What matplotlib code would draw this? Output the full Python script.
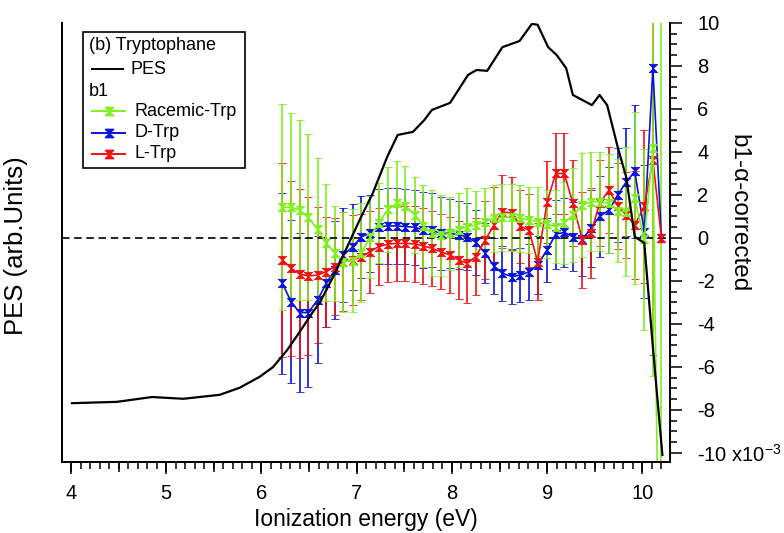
import numpy as np
import matplotlib.pyplot as plt
from matplotlib.path import Path
from matplotlib.ticker import MultipleLocator
from matplotlib.patches import Rectangle
from matplotlib.lines import Line2D

plt.rcParams['font.family'] = ['Liberation Sans', 'DejaVu Sans']
plt.rcParams['mathtext.fontset'] = 'custom'
plt.rcParams['mathtext.rm'] = 'Liberation Sans'

# PES spectrum (arb. units)
pes_energy = [4.01, 4.48, 4.85, 5.18, 5.56, 5.77, 5.98, 6.12, 6.27, 6.40, 6.54, 6.61,
              6.75, 6.90, 7.03, 7.17, 7.32, 7.43, 7.59, 7.71, 7.79, 7.98, 8.17, 8.26,
              8.37, 8.53, 8.71, 8.84, 8.90, 9.01, 9.10, 9.20, 9.27, 9.47, 9.55, 9.63,
              9.74, 9.83, 9.92, 10.02, 10.11, 10.21]
pes = [0.134, 0.137, 0.148, 0.144, 0.153, 0.169, 0.194, 0.216, 0.255, 0.296, 0.342, 0.362,
       0.421, 0.490, 0.551, 0.613, 0.695, 0.745, 0.752, 0.779, 0.802, 0.818, 0.882, 0.893,
       0.891, 0.945, 0.959, 0.998, 0.996, 0.945, 0.927, 0.897, 0.836, 0.813, 0.836, 0.813,
       0.718, 0.649, 0.513, 0.499, 0.262, 0.016]

# b1 (x1e-3)
energy = [6.22, 6.31, 6.40, 6.49, 6.59, 6.68, 6.77, 6.86, 6.96, 7.05, 7.14, 7.23, 7.33,
          7.42, 7.51, 7.61, 7.70, 7.79, 7.88, 7.98, 8.07, 8.16, 8.25, 8.35, 8.44, 8.53,
          8.63, 8.72, 8.81, 8.90, 9.00, 9.09, 9.18, 9.27, 9.37, 9.46, 9.55, 9.65, 9.74,
          9.83, 9.92, 10.02, 10.11, 10.20]

racemic = [1.43, 1.43, 1.30, 0.96, 0.40, -0.22, -0.71, -1.10, -1.05, -0.68, 0.03, 0.71,
           1.33, 1.61, 1.49, 1.07, 0.56, 0.22, 0.12, 0.22, 0.37, 0.53, 0.60, 0.76, 0.91,
           0.96, 0.96, 0.91, 0.84, 0.76, 0.65, 0.53, 0.71, 1.07, 1.53, 1.69, 1.69, 1.61,
           1.27, 1.22, 1.85, -0.06, 4.17, -25.0]
racemic_err = [4.8, 4.37, 4.19, 3.86, 3.33, 2.72, 2.2, 2.33, 2.4, 2.3, 1.9, 1.86, 1.99,
               1.99, 1.87, 1.75, 1.91, 2.0, 1.9, 1.7, 1.7, 1.78, 1.6, 1.55, 1.55, 1.55,
               1.55, 1.55, 1.55, 1.6, 1.6, 1.7, 1.9, 2.2, 2.4, 2.3, 2.3, 2.3, 2.4, 3.0,
               4.0, 4.2, 10.6, 40.0]

d_trp = [-2.11, -2.96, -3.47, -3.47, -2.88, -2.11, -1.49, -0.79, -0.40, 0.06, 0.22, 0.53,
         0.56, 0.56, 0.53, 0.50, 0.37, 0.37, 0.22, 0.22, 0.14, 0.06, -0.20, -0.71, -1.30,
         -1.64, -1.80, -1.72, -1.57, -1.26, -0.55, 0.18, 0.26, 0.06, -0.05, 0.45, 1.0,
         1.3, 2.0, 2.6, 3.1, 0.3, 7.9, 0.0]
d_trp_err = [4.2, 3.8, 3.7, 3.45, 2.95, 2.05, 2.3, 2.2, 2.0, 1.9, 1.8, 1.75, 1.75, 1.75,
             1.75, 1.75, 1.75, 1.7, 1.7, 1.6, 1.6, 1.55, 1.5, 1.4, 1.3, 1.27, 1.27, 1.27,
             1.3, 1.35, 1.5, 1.6, 1.6, 1.6, 1.7, 1.8, 1.9, 2.0, 2.2, 2.5, 3.1, 3.1, 4.2, 0.0]

l_trp = [-1.02, -1.41, -1.67, -1.77, -1.72, -1.57, -1.33, -1.10, -1.02, -0.87, -0.64,
         -0.40, -0.28, -0.25, -0.25, -0.28, -0.37, -0.48, -0.64, -0.79, -1.02, -1.18,
         -0.87, -0.10, 0.60, 1.22, 1.15, 0.55, 0.35, -1.10, 1.69, 3.0, 3.0, 1.61, -0.09,
         0.22, 1.61, 2.23, 1.5, 1.07, 0.6, 1.47, 3.63, 0.0]
l_trp_err = [4.5, 4.06, 3.93, 3.66, 3.15, 2.56, 2.25, 2.3, 2.1, 2.0, 1.9, 1.8, 1.75, 1.75,
             1.75, 1.75, 1.75, 1.75, 1.75, 1.75, 1.8, 1.85, 1.8, 1.8, 1.75, 1.7, 1.7, 1.7,
             1.7, 1.8, 1.9, 1.9, 1.9, 2.0, 2.25, 2.1, 2.0, 2.0, 2.0, 2.0, 2.5, 3.57, 9.07, 0.0]

GREEN = '#80f020'
BLUE = '#0a14d8'
RED = '#ee1111'

W, H = 784, 533

# filled hourglass marker, as in the Igor original
hourglass = Path([(-1, 1), (1, 1), (-1, -1), (1, -1), (-1, 1)])


def fxy(px, py):
  """pixel position -> figure fraction"""
  return px / W, 1 - py / H


fig = plt.figure(figsize=(W / 100, H / 100), dpi=100)
ax = fig.add_axes([62 / W, 71 / H, 608 / W, 439 / H])
ax_pes = ax.twinx()

# b1 series on the right-hand axis
for y, err, col in [(d_trp, d_trp_err, BLUE), (l_trp, l_trp_err, RED), (racemic, racemic_err, GREEN)]:
  ax.errorbar(energy, y, yerr=err, color=col, lw=1.2, elinewidth=1.2, capsize=3.2,
              capthick=1.2, marker=hourglass, ms=6, mew=0.6, mec=col, mfc=col)
ax.axhline(0, color='black', lw=1.2, dashes=(4.5, 2.8))

ax.set_xlim(3.905, 10.29)
ax.set_ylim(-10.42, 10)
ax.yaxis.tick_right()
ax.yaxis.set_minor_locator(MultipleLocator(0.5))
yt = np.arange(-10, 11, 2)
ax.set_yticks(yt)
ax.set_yticklabels(['-10 x10$^{-3}$'] + [str(v) for v in yt[1:]])
ax.xaxis.set_major_locator(MultipleLocator(1))
ax.xaxis.set_minor_locator(MultipleLocator(0.1))
ax.tick_params(axis='both', which='major', direction='out', length=8.5, width=1.1,
               labelsize=14.5, color='black')
ax.tick_params(axis='both', which='minor', direction='out', length=5, width=1.1)
ax.tick_params(axis='y', pad=11)
ax.tick_params(axis='x', pad=7)
ax.set_ylabel('b1-α-corrected', fontsize=17.5, rotation=270)
ax.yaxis.set_label_position('right')
ax.yaxis.label.set_va('center')
ax.yaxis.set_label_coords((738 - 62) / 608, (462 - 213) / 439)
ax.set_xlabel('Ionization energy (eV)', fontsize=16.5, labelpad=4)

# half-eV ticks a little longer
sec = ax.secondary_xaxis('bottom')
sec.xaxis.set_major_locator(MultipleLocator(0.5))
sec.tick_params(direction='out', length=7, width=1.1, labelbottom=False)
sec.spines['bottom'].set_visible(False)

# PES on its own unlabeled scale, drawn on top
ax_pes.plot(pes_energy, pes, color='black', lw=1.6)
ax_pes.set_ylim(0, 1.0)
ax_pes.set_yticks([])
ax_pes.set_ylabel('PES (arb.Units)', fontsize=18.5)
ax_pes.yaxis.set_label_position('left')
ax_pes.yaxis.label.set_va('center')
ax_pes.yaxis.set_label_coords((16 - 62) / 608, (462 - 246) / 439)

for a in (ax, ax_pes):
  a.spines['top'].set_visible(False)
  for s in ('left', 'right', 'bottom'):
    a.spines[s].set_linewidth(1.3)

# legend box drawn by hand (headers sit flush left like in Igor)
x0, y0 = fxy(83, 168)
x1, y1 = fxy(245, 32)
fig.add_artist(Rectangle((x0, y0), x1 - x0, y1 - y0, transform=fig.transFigure,
                         fill=True, fc='white', ec='black', lw=1.2, zorder=10))
fs = 13
fig.text(*fxy(89, 46), '(b) Tryptophane', fontsize=fs, va='center', zorder=11)
fig.text(*fxy(89, 91), 'b1', fontsize=fs, va='center', zorder=11)
rows = [('PES', 'black', 69, None, 130), ('Racemic-Trp', GREEN, 111, hourglass, 135),
        ('D-Trp', BLUE, 132.5, hourglass, 135), ('L-Trp', RED, 153.5, hourglass, 135)]
for label, col, py, mk, tx in rows:
  (lx0, ly), (lx1, _) = fxy(92, py), fxy(125 if mk else 123, py)
  fig.add_artist(Line2D([lx0, lx1], [ly, ly], transform=fig.transFigure, color=col,
                        lw=1.4, zorder=11))
  if mk is not None:
    fig.add_artist(Line2D([(lx0 + lx1) / 2], [ly], transform=fig.transFigure, color=col,
                          marker=mk, ms=6, zorder=12))
  fig.text(*fxy(tx, py), label, fontsize=fs, va='center', zorder=11)

fig.savefig('out.png', dpi=100)
